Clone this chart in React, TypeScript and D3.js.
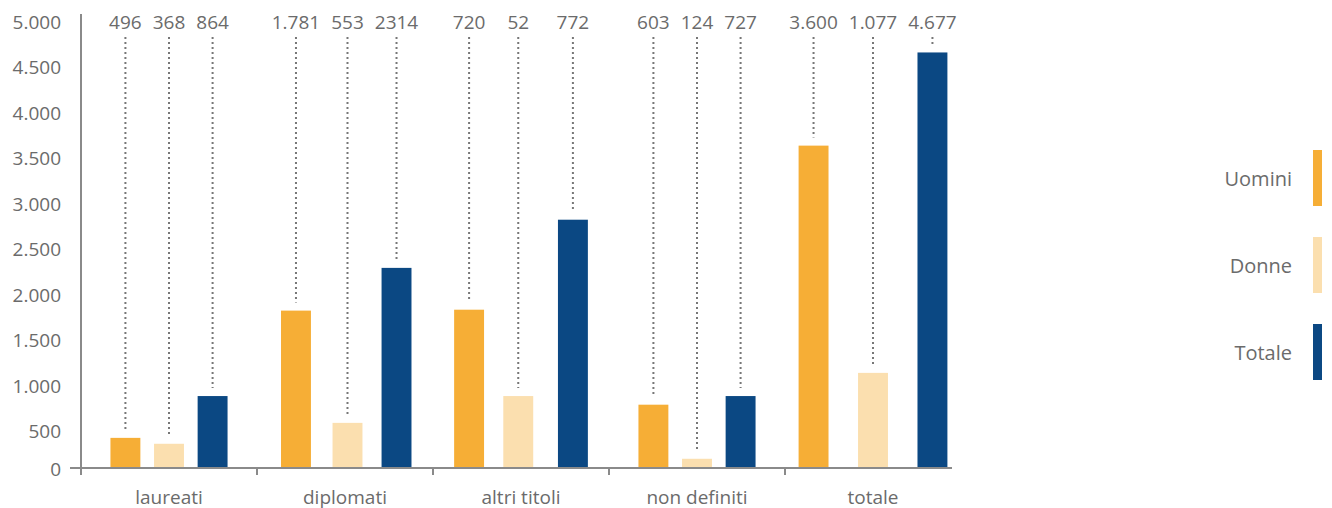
import React, { useMemo } from "react";
import * as d3 from "d3";

const categories = ["laureati", "diplomati", "altri titoli", "non definiti", "totale"];
const seriesNames = ["Uomini", "Donne", "Totale"];
const uomini = [425, 1825, 1835, 790, 3640];
const donne = [360, 590, 885, 195, 1140];
const totale = [885, 2295, 2825, 885, 4665];
// value labels printed above each group (as written in the chart)
const valueLabels = [
  "496  368  864",
  "1.781  553  2314",
  "720    52     772",
  "603  124  727",
  "3.600  1.077  4.677",
];
const yTicks = [0, 500, 1000, 1500, 2000, 2500, 3000, 3500, 4000, 4500, 5000];
const colors = ["#F6AE36", "#FBDFAF", "#0B4883"];

const W = 1332;
const H = 508;
const FONT_SIZE = 19;
const FONT = `${FONT_SIZE}px 'Open Sans'`;
const SPACE_UNIT = 5.5;
const TEXT = "#6b6b6b";
const AXIS = "#8a8a8a";

export default function App() {
  const seriesValues = [uomini, donne, totale];
  const x = d3.scaleBand<string>().domain(categories).range([81, 961]);
  const y = d3.scaleLinear().domain([0, 5000]).range([476.5, 22]);
  const baseline = 468;
  const axisRight = 952;
  const barW = x.bandwidth() * 0.17;
  const fmt = d3
    .formatLocale({ decimal: ",", thousands: ".", grouping: [3], currency: ["€", ""] })
    .format(",");

  const layout = useMemo(() => {
    const canvas = document.createElement("canvas");
    const ctx = canvas.getContext("2d")!;
    ctx.font = FONT;
    return categories.map((c, gi) => {
      const s = valueLabels[gi];
      const tokens = s.match(/\S+|\s+/g) || [];
      const widths = tokens.map((t) => (/\S/.test(t) ? ctx.measureText(t).width : t.length * SPACE_UNIT));
      const total = d3.sum(widths);
      const cx = (x(c) as number) + x.bandwidth() / 2;
      let pos = cx - total / 2;
      const items: { text: string; center: number }[] = [];
      tokens.forEach((t, i) => {
        if (/\S/.test(t)) items.push({ text: t, center: pos + widths[i] / 2 });
        pos += widths[i];
      });
      return items;
    });
  }, []);

  return (
    <div style={{ position: "absolute", left: 0, top: 0 }}>
      <svg width={W} height={H} style={{ display: "block", fontFamily: "'Open Sans', sans-serif" }}>
        <rect width={W} height={H} fill="#fff" />
        {yTicks.map((t) => (
          <text
            key={t}
            x={61}
            y={Math.min(y(t), baseline + 1)}
            textAnchor="end"
            dominantBaseline="central"
            fontSize={FONT_SIZE}
            fill={TEXT}
          >
            {fmt(t)}
          </text>
        ))}
        {categories.map((c, gi) => (
          <g key={c}>
            {seriesValues.map((vals, si) => {
              const item = layout[gi][si];
              const top = y(vals[gi]);
              return (
                <g key={si}>
                  <line
                    x1={item.center}
                    x2={item.center}
                    y1={37}
                    y2={top - 8}
                    stroke="#777"
                    strokeWidth={2}
                    strokeDasharray="2,3"
                  />
                  <rect x={item.center - barW / 2} y={top} width={barW} height={baseline - top} fill={colors[si]} />
                  <text
                    x={item.center}
                    y={22}
                    textAnchor="middle"
                    dominantBaseline="central"
                    fontSize={FONT_SIZE}
                    fill={TEXT}
                  >
                    {item.text}
                  </text>
                </g>
              );
            })}
            <text
              x={(x(c) as number) + x.bandwidth() / 2}
              y={503.5}
              textAnchor="middle"
              fontSize={FONT_SIZE}
              fill={TEXT}
            >
              {c}
            </text>
          </g>
        ))}
        <line x1={81} x2={81} y1={14} y2={475} stroke={AXIS} strokeWidth={2} />
        <line x1={70} x2={axisRight} y1={baseline} y2={baseline} stroke={AXIS} strokeWidth={2} />
        {categories.map((c) => (
          <line key={c} x1={x(c) as number} x2={x(c) as number} y1={baseline} y2={475} stroke={AXIS} strokeWidth={2} />
        ))}
        {seriesNames.map((n, i) => {
          const cy = 178 + i * 87;
          return (
            <g key={n}>
              <rect x={1313} y={cy - 28} width={9} height={56} fill={colors[i]} />
              <text x={1292} y={cy} textAnchor="end" dominantBaseline="central" fontSize={20} fill={TEXT}>
                {n}
              </text>
            </g>
          );
        })}
      </svg>
    </div>
  );
}
